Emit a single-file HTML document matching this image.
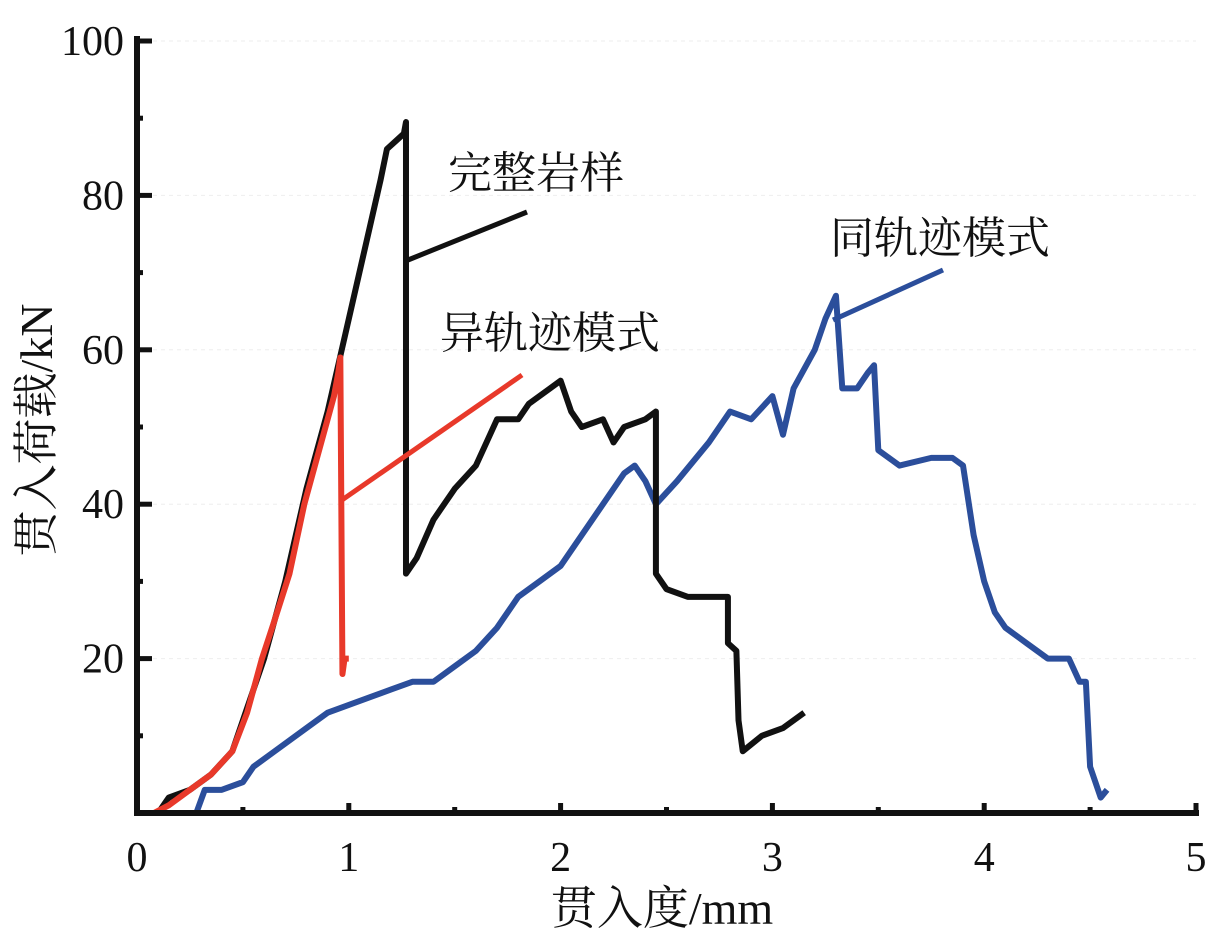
<!DOCTYPE html>
<html><head><meta charset="utf-8"><style>
body{margin:0;background:#fff}
svg text{font-family:"Liberation Serif","Noto Serif CJK SC",serif;fill:#111}
</style></head><body>
<svg id="chart" width="1221" height="939" viewBox="0 0 1221 939" xmlns="http://www.w3.org/2000/svg">
<g id="grid"></g><g id="series"></g><g id="axes"></g><g id="annot"></g>
</svg>
<script>
const xTicks=[0,1,2,3,4,5];
const yTicks=[20,40,60,80,100];
const blackX=[0.1,0.15,0.25,0.35,0.45,0.5,0.55,0.6,0.65,0.7,0.75,0.8,0.85,0.9,0.95,1.0,1.05,1.1,1.15,1.18,1.22,1.26,1.27,1.27,1.32,1.4,1.5,1.6,1.65,1.7,1.8,1.85,1.95,2.0,2.05,2.1,2.2,2.25,2.3,2.4,2.45,2.45,2.5,2.6,2.7,2.79,2.79,2.83,2.84,2.86,2.95,3.05,3.15];
const blackY=[0,2,3,5,8,12,16,20,25,30,36,42,47,52,58,64,70,76,82,86,87,88,89.5,31,33,38,42,45,48,51,51,53,55,56,52,50,51,48,50,51,52,31,29,28,28,28,22,21,12,8,10,11,13];
const redX=[0.08,0.15,0.25,0.35,0.45,0.52,0.59,0.65,0.72,0.79,0.85,0.9,0.93,0.95,0.96,0.97,0.98,1.0];
const redY=[0,1,3,5,8,13,20,25,31,40,46,51,54,57,59,18,20,20];
const blueX=[0.28,0.32,0.4,0.5,0.55,0.65,0.8,0.9,1.0,1.1,1.2,1.3,1.4,1.5,1.6,1.7,1.8,1.9,2.0,2.1,2.2,2.3,2.35,2.4,2.45,2.55,2.7,2.8,2.9,3.0,3.05,3.1,3.2,3.25,3.3,3.33,3.4,3.45,3.48,3.5,3.6,3.75,3.85,3.9,3.95,4.0,4.05,4.1,4.2,4.3,4.4,4.45,4.48,4.5,4.55,4.58];
const blueY=[0,3,3,4,6,8,11,13,14,15,16,17,17,19,21,24,28,30,32,36,40,44,45,43,40,43,48,52,51,54,49,55,60,64,67,55,55,57,58,47,45,46,46,45,36,30,26,24,22,20,20,17,17,6,2,3];
const X0=137,XS=211.8,Y0=813,YS=7.72;
const sx=v=>X0+v*XS, sy=v=>Y0-v*YS;
const NS='http://www.w3.org/2000/svg';
function mk(tag,attrs,parent){const e=document.createElementNS(NS,tag);for(const k in attrs)e.setAttribute(k,attrs[k]);parent.appendChild(e);return e;}
const grid=document.getElementById('grid'),ser=document.getElementById('series'),ax=document.getElementById('axes'),an=document.getElementById('annot');
yTicks.forEach(v=>{const l=mk('line',{x1:sx(0),x2:sx(5),y1:sy(v),y2:sy(v),stroke:'#eee','stroke-width':1,'stroke-dasharray':'4 4'},grid);

});
function series(xs,ys,color,name){const p=mk('polyline',{points:xs.map((x,i)=>sx(x)+','+sy(ys[i])).join(' '),fill:'none',stroke:color,'stroke-width':6,'stroke-linejoin':'round'},ser);

}
series(blueX,blueY,'#2b4e9b','series-same-track');
series(blackX,blackY,'#111','series-intact-rock');
series(redX,redY,'#e8392a','series-different-track');
const a1=mk('line',{x1:sx(0),x2:sx(0),y1:36,y2:Y0+3,stroke:'#111','stroke-width':6},ax);


const a2=mk('line',{x1:sx(0)-3,x2:sx(5)+3,y1:Y0,y2:Y0,stroke:'#111','stroke-width':6},ax);


for(let v=0.5;v<=5;v+=0.5){const major=Number.isInteger(v);const t=mk('line',{x1:sx(v),x2:sx(v),y1:Y0,y2:Y0-(major?10:6),stroke:'#111','stroke-width':5},ax);

}
for(let v=10;v<=100;v+=10){const major=v%20===0;const t=mk('line',{x1:sx(0),x2:sx(0)+(major?15:6),y1:sy(v),y2:sy(v),stroke:'#111','stroke-width':5},ax);

}
xTicks.forEach(v=>{const t=mk('text',{x:sx(v),y:871,'font-size':42,'text-anchor':'middle'},ax);t.textContent=v;

});
yTicks.forEach(v=>{const t=mk('text',{x:124,y:sy(v)+14,'font-size':42,'text-anchor':'end'},ax);t.textContent=v;

});
const xt=mk('text',{x:662,y:924,'font-size':46,'text-anchor':'middle'},ax);xt.textContent='贯入度/mm';


const yt=mk('text',{x:52,y:430,'font-size':46,'text-anchor':'middle',transform:'rotate(-90 52 430)'},ax);yt.textContent='贯入荷载/kN';


function label(x1,y1,x2,y2,color,tx,ty,txt,name){const l=mk('line',{x1,y1,x2,y2,stroke:color,'stroke-width':5},an);


const t=mk('text',{x:tx,y:ty,'font-size':44},an);t.textContent=txt;

}
label(408,260,527,212,'#111',448,188,'完整岩样','intact-rock');
label(342,500,522,375,'#e8392a',440,348,'异轨迹模式','different-track');
label(833,320,943,270,'#2b4e9b',830,253,'同轨迹模式','same-track');
</script>
</body></html>
